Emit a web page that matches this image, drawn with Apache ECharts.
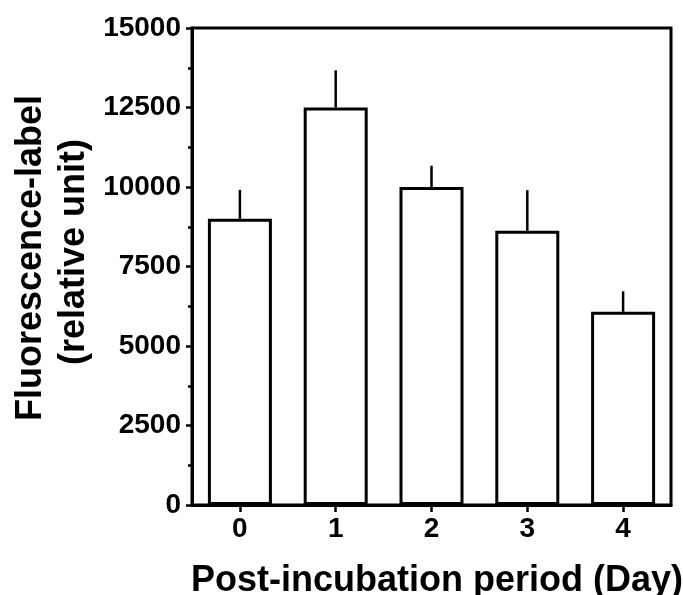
<!DOCTYPE html>
<html>
<head>
<meta charset="utf-8">
<script src="https://cdn.jsdelivr.net/npm/echarts@6/dist/echarts.min.js"></script>
<style>
html,body{margin:0;padding:0;background:#fff;}
#main{width:683px;height:595px;}
</style>
</head>
<body>
<div id="main"></div>
<script>
const categories = ['0', '1', '2', '3', '4'];
const means = [9000, 12500, 10000, 8625, 6075];
const errTops = [9910, 13670, 10670, 9900, 6720];
const yTicks = [0, 2500, 5000, 7500, 10000, 12500, 15000];

const FONT = '"Liberation Sans", Arial, sans-serif';
const chart = echarts.init(document.getElementById('main'));

chart.setOption({
  animation: false,
  backgroundColor: '#fff',
  grid: {
    left: 192, right: 12, top: 28, bottom: 90,
    show: true, borderColor: '#000', borderWidth: 3, backgroundColor: 'transparent'
  },
  xAxis: {
    type: 'category',
    data: categories,
    axisLine: { show: true, lineStyle: { color: '#000', width: 3 } },
    axisTick: { show: true, alignWithLabel: true, length: 7, lineStyle: { color: '#000', width: 2.5 } },
    axisLabel: { color: '#000', fontFamily: FONT, fontWeight: 'bold', fontSize: 28, margin: 10 },
    splitLine: { show: false }
  },
  yAxis: {
    type: 'value',
    min: yTicks[0],
    max: yTicks[yTicks.length - 1],
    interval: 2500,
    axisLine: { show: true, lineStyle: { color: '#000', width: 3 } },
    axisTick: { show: true, length: 6, lineStyle: { color: '#000', width: 2.5 } },
    minorTick: { show: true, splitNumber: 2, length: 4, lineStyle: { color: '#000', width: 2.5 } },
    axisLabel: {
      color: '#000', fontFamily: FONT, fontWeight: 'bold', fontSize: 28, margin: 11,
      formatter: function (v) { return String(v); }
    },
    splitLine: { show: false }
  },
  series: [
    {
      type: 'custom',
      z: 1,
      renderItem: function (params, api) {
        const i = api.value(0);
        const top = api.coord([i, api.value(2)]);
        const base = api.coord([i, api.value(1)]);
        return {
          type: 'line',
          shape: { x1: top[0], y1: top[1], x2: base[0], y2: base[1] },
          style: { stroke: '#000', lineWidth: 2.5 }
        };
      },
      data: categories.map((c, i) => [i, means[i], errTops[i]])
    },
    {
      type: 'bar',
      z: 2,
      data: means,
      barWidth: 64,
      itemStyle: { color: '#fff', borderColor: '#000', borderWidth: 3 }
    }
  ],
  graphic: [
    {
      type: 'text', x: 31, y: 258, rotation: Math.PI / 2,
      style: { text: 'Fluorescence-label', font: 'bold 36px ' + FONT, fill: '#000', textAlign: 'center', textVerticalAlign: 'middle' }
    },
    {
      type: 'text', x: 74, y: 252, rotation: Math.PI / 2,
      style: { text: '(relative unit)', font: 'bold 36px ' + FONT, fill: '#000', textAlign: 'center', textVerticalAlign: 'middle' }
    },
    {
      type: 'text', x: 437, y: 581,
      style: { text: 'Post-incubation period (Day)', font: 'bold 36px ' + FONT, fill: '#000', textAlign: 'center', textVerticalAlign: 'middle' }
    }
  ]
});
</script>
</body>
</html>
